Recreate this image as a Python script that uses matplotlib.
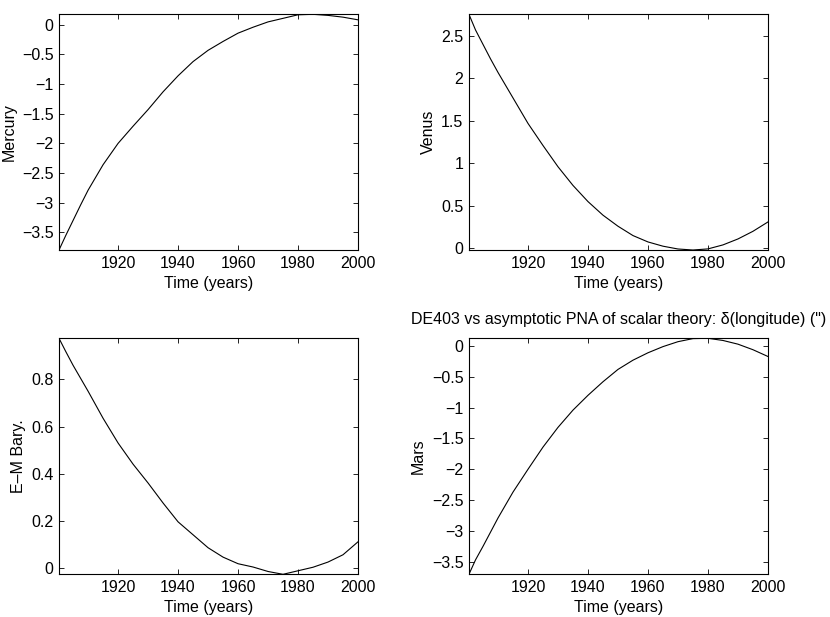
"""DE403 vs asymptotic PNA of scalar theory: differences in longitude"""
import matplotlib
matplotlib.use('Agg')
import matplotlib.pyplot as plt
from matplotlib.ticker import FuncFormatter, MultipleLocator

# years (first point is the start of the computed interval)
years = [1900.3, 1902.5, 1905, 1907.5, 1910, 1915, 1920, 1925, 1930, 1935,
         1940, 1945, 1950, 1955, 1960, 1965, 1970, 1975, 1980, 1985, 1990,
         1995, 2000]

mercury = [-3.80, -3.56, -3.30, -3.04, -2.79, -2.36, -2.00, -1.71, -1.43,
           -1.13, -0.86, -0.62, -0.43, -0.28, -0.14, -0.04, 0.05, 0.11, 0.17,
           0.178, 0.16, 0.13, 0.085]
venus = [2.755, 2.57, 2.40, 2.23, 2.07, 1.77, 1.47, 1.21, 0.96, 0.74, 0.55,
         0.39, 0.26, 0.15, 0.075, 0.025, -0.008, -0.02, -0.007, 0.04, 0.11,
         0.20, 0.31]
em_bary = [0.975, 0.92, 0.86, 0.805, 0.75, 0.635, 0.53, 0.44, 0.36, 0.275,
           0.195, 0.14, 0.085, 0.045, 0.017, 0.003, -0.016, -0.028, -0.013,
           0.002, 0.024, 0.055, 0.11]
mars = [-3.705, -3.47, -3.25, -3.02, -2.79, -2.37, -2.00, -1.64, -1.32,
        -1.04, -0.80, -0.58, -0.38, -0.23, -0.11, -0.01, 0.07, 0.12, 0.125,
        0.09, 0.03, -0.06, -0.17]

x_ticks = [1920, 1940, 1960, 1980, 2000]
title = 'DE403 vs asymptotic PNA of scalar theory: \u03b4(longitude) (")'

plt.rcParams['font.family'] = ['Liberation Sans', 'DejaVu Sans']
plt.rcParams['font.size'] = 11.5


def fmt(v, pos):
    return ('%g' % round(v, 6)).replace('-', '\u2212')


fig = plt.figure(figsize=(8.3, 6.17), dpi=100)

# [left, bottom, width, height] in figure fractions, MATLAB 2x2 subplot layout
boxes = [[0.0711, 0.5948, 0.3602, 0.382],
         [0.5650, 0.5948, 0.3602, 0.382],
         [0.0711, 0.0692, 0.3602, 0.3825],
         [0.5650, 0.0692, 0.3602, 0.3825]]
series = [(mercury, 'Mercury', 0.5),
          (venus, 'Venus', 0.5),
          (em_bary, 'E\u2013M Bary.', 0.2),
          (mars, 'Mars', 0.5)]

for i, (box, (vals, name, step)) in enumerate(zip(boxes, series)):
    ax = fig.add_axes(box)
    ax.plot(years, vals, color='black', lw=0.8)
    ax.set_xlim(years[0], years[-1])
    ax.set_ylim(min(vals), max(vals))
    ax.set_xticks(x_ticks)
    ax.yaxis.set_major_locator(MultipleLocator(step))
    ax.yaxis.set_major_formatter(FuncFormatter(fmt))
    ax.tick_params(direction='in', length=3.5, width=0.6, top=True,
                   right=True, pad=4)
    for s in ax.spines.values():
        s.set_linewidth(0.8)
    ax.set_xlabel('Time (years)', labelpad=4)
    ax.set_ylabel(name, labelpad=4)
    if i == 3:
        ax.set_title(title, fontsize=11.5, pad=10)

fig.savefig('out.png', dpi=100)
